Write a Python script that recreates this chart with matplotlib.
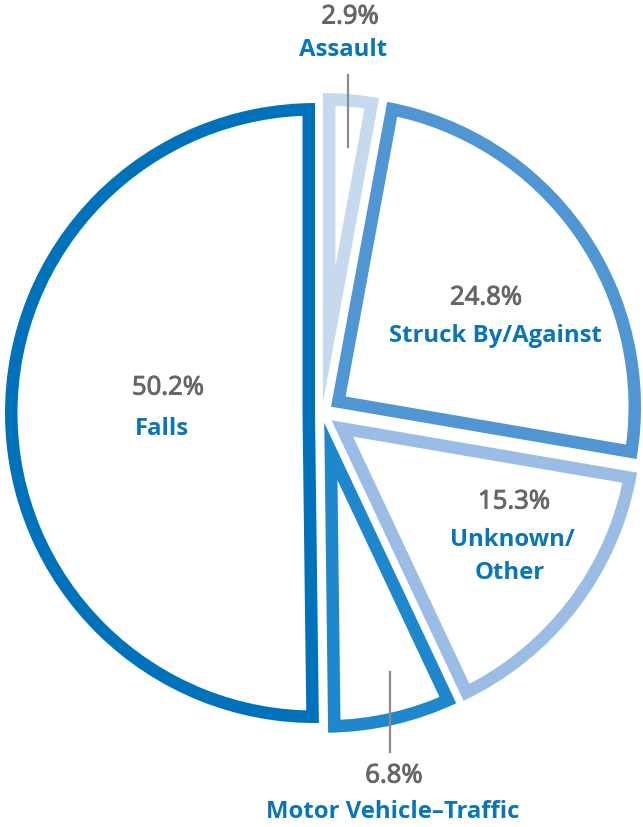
import math
import matplotlib.pyplot as plt
import matplotlib.patheffects as pe
from matplotlib.patches import Wedge

plt.rcParams['font.family'] = ['Open Sans', 'DejaVu Sans']

# data, clockwise from the top
labels = ["Assault", "Struck By/Against", "Unknown/\nOther", "Motor Vehicle\u2013Traffic", "Falls"]
values = [2.9, 24.8, 15.3, 6.8, 50.2]
colors = ["#c6daef", "#4f96d2", "#9bbce4", "#1f87cb", "#0072bc"]
explode = [10, 11, 12, 10, 7]   # px

W, H = 643, 828
fig = plt.figure(figsize=(W / 100, H / 100), dpi=100)
ax = fig.add_axes([0, 0, 1, 1])
ax.set_xlim(0, W)
ax.set_ylim(H, 0)
ax.axis('off')

cx, cy, r = 322, 414, 310
stroke = 12.5  # px, drawn inside the wedge

# y axis points down, so increasing angle runs clockwise on screen
start = -90.0
total = sum(values)
for v, c, e in zip(values, colors, explode):
    span = 360.0 * v / total
    mid = math.radians(start + span / 2)
    x0 = cx + e * math.cos(mid)
    y0 = cy + e * math.sin(mid)
    w = Wedge((x0, y0), r, start, start + span, facecolor="white",
              edgecolor=c, linewidth=2 * stroke * 0.72, joinstyle='miter')
    ax.add_patch(w)
    w.set_clip_path(w.get_path(), w.get_transform())
    start += span

gray = "#666666"
blue = "#0a76b8"
pct_size = 18.5
lab_size = 17.2
thick = [pe.withStroke(linewidth=0.7, foreground=gray)]


def pct(x, y, s):
    ax.text(x, y, s, color=gray, fontsize=pct_size, ha='center', va='center',
            path_effects=thick)


def lab(x, y, s):
    ax.text(x, y, s, color=blue, fontsize=lab_size, fontweight='bold',
            ha='center', va='center')


# Assault
pct(350, 18, "2.9%")
lab(343, 50, "Assault")
ax.plot([348, 348], [76, 148], color="#8c8c8c", lw=1.6)

# Struck By/Against
pct(486, 299, "24.8%")
lab(495, 336, "Struck By/Against")

# Falls
pct(168, 389, "50.2%")
lab(162, 429, "Falls")

# Unknown/Other
pct(514, 503, "15.3%")
lab(512, 540, "Unknown/")
lab(510, 573, "Other")

# Motor Vehicle-Traffic
ax.plot([390, 390], [673, 753], color="#8c8c8c", lw=1.6)
pct(394, 777, "6.8%")
lab(393, 812, "Motor Vehicle\u2013Traffic")

fig.savefig("out.png", dpi=100)
